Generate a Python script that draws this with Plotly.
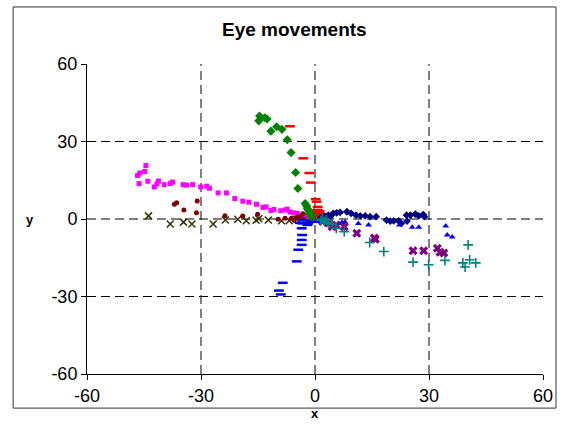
import plotly.graph_objects as go

# ---- data ----
magenta_x = [-44.5, -44.8, -46.1, -46.7, -46.3, -44.0, -42.3, -41.6, -41.2, -39.7, -38.1, -37.5, -34.7, -33.8,
             -32.2, -30.1, -28.5, -27.8, -25.5, -23.3, -21.1, -19.0, -17.4, -15.4, -13.7, -12.9, -11.6, -10.8,
             -9.0, -7.9, -7.3, -6.6, -5.7, -4.7, -3.5, -2.5]
magenta_y = [20.7, 18.4, 17.8, 16.8, 13.7, 14.6, 12.4, 13.6, 14.7, 13.3, 13.7, 14.3, 13.3, 13.1,
             13.3, 12.4, 12.7, 11.9, 10.1, 10.1, 7.9, 6.9, 6.5, 5.7, 4.5, 4.7, 3.3, 3.7,
             3.2, 3.5, 3.8, 2.7, 2.4, 2.2, 1.5, 1.0]

darkred_x = [-37.0, -36.4, -34.5, -31.0, -31.2, -23.7, -19.0, -15.1, -9.7, -7.9, -6.2, -4.7, -4.0, -3.0, -2.0, -3.2, -1.0, -5.5]
darkred_y = [5.7, 6.3, 3.5, 7.0, 2.4, 1.3, 1.2, 1.8, -0.1, 0.3, 0.3, 0.7, 1.0, 0.0, -1.0, 2.0, 0.0, -0.5]

olive_x = [-43.8, -38.1, -34.6, -32.4, -26.8, -23.6, -20.3, -18.1, -14.8, -15.5, -12.3, -8.8, -6.8, -4.8]
olive_y = [1.2, -1.9, -1.2, -1.9, -1.9, -0.4, -0.1, -0.7, 0.1, -0.5, -0.4, -0.7, -0.7, -0.1]

green_x = [-14.6, -14.8, -13.2, -12.6, -11.6, -10.1, -8.7, -7.3, -6.3, -5.1, -4.5, -2.6, -2.2, -2.0, -1.8,
           -1.5, -0.3, -1.1, 0.5, -0.8, 0.2, 1.0]
green_y = [39.9, 38.0, 39.2, 38.7, 34.0, 35.7, 34.7, 30.7, 25.7, 18.0, 11.8, 6.0, 5.0, 4.1, 3.5,
           2.2, 2.5, 0.9, 2.0, 1.5, 1.0, 0.3]

red_x = [-6.6, -3.1, -1.5, -1.1, 0.2, 0.4, 0.7, 0.7, 1.1, 1.3, 1.5, 2.0, 1.2]
red_y = [35.9, 23.5, 17.8, 14.1, 7.7, 6.7, 4.7, 3.5, 2.4, 1.2, 0.5, 1.8, 3.0]

blue_dash_x = [-3.3, -3.5, -3.4, -3.5, -3.5, -4.4, -4.8, -8.5, -9.5, -9.0, -2.0, -1.8, -0.5, 1.0, -3.0, -4.0]
blue_dash_y = [-1.7, -3.6, -6.2, -8.1, -10.0, -11.9, -16.4, -24.7, -27.7, -29.2, -2.3, -1.7, -1.1, -0.8, -0.5, -1.5]

navy_x = [4.8, 5.7, 6.6, 8.4, 9.5, 10.8, 11.9, 13.2, 14.5, 16.1, 18.8, 19.8, 20.7, 22.0, 22.7, 24.2,
          24.1, 25.1, 26.4, 27.3, 28.5, 28.8, 1.5, 2.5, 3.5, 3.0, 4.0]
navy_y = [2.2, 2.4, 2.6, 2.8, 2.2, 1.5, 1.2, 1.2, 0.9, 0.9, -0.4, -0.8, -0.7, -0.7, -1.7, -0.8,
          1.5, 1.5, 1.9, 1.2, 1.7, 0.9, 0.5, 1.0, 1.5, -0.5, 0.8]

tri_x = [6.2, 7.1, 7.9, 11.4, 14.1, 22.2, 25.6, 27.3, 34.4, 34.8, 36.1, 1.0, 2.5, 4.0]
tri_y = [-1.7, -1.4, -1.2, -1.7, -2.3, -2.3, -3.2, -3.2, -2.7, -6.2, -7.0, -1.0, -0.5, -1.0]

purple_x = [5.6, 7.7, 11.0, 15.6, 15.9, 25.8, 28.6, 32.2, 32.9, 33.9, 2.0, 3.5, 4.5]
purple_y = [-2.3, -3.0, -5.5, -7.4, -7.8, -12.3, -12.3, -11.3, -12.9, -13.2, -1.0, -1.5, -3.0]

teal_x = [5.6, 7.7, 14.4, 18.1, 25.8, 29.9, 34.2, 40.3, 38.9, 39.5, 40.7, 42.3, 1.5, 2.5, 3.5, 4.5, 3.0, 2.0]
teal_y = [-3.6, -4.9, -9.1, -12.6, -16.7, -17.7, -16.0, -10.0, -17.0, -18.6, -15.8, -17.0, -0.5, -1.0, -1.5, -2.0, -0.3, 0.0]

tick_vals = [-60, -30, 0, 30, 60]
grid_vals = [-30, 0, 30]

FONT = "Liberation Sans, Arial, sans-serif"

fig = go.Figure()

def add(x, y, symbol, color, size, lw=0):
    fig.add_trace(go.Scatter(
        x=x, y=y, mode="markers", showlegend=False, hoverinfo="skip",
        marker=dict(symbol=symbol, size=size, color=color,
                    line=dict(color=color, width=lw))))

add(magenta_x, magenta_y, "square", "#FF00FF", 5)
add(olive_x, olive_y, "x-thin", "#333300", 7, lw=1.5)
add(darkred_x, darkred_y, "circle", "#800000", 5)
add(green_x, green_y, "diamond", "#008000", 7)
add(red_x, red_y, "line-ew", "#FF0000", 7, lw=2.5)
add(blue_dash_x, blue_dash_y, "line-ew", "#0000FF", 7, lw=2.5)
add(navy_x, navy_y, "diamond", "#000080", 6)
add(tri_x, tri_y, "triangle-up", "#0000FF", 6)
add(purple_x, purple_y, "x", "#800080", 8)
add(teal_x, teal_y, "cross-thin", "#008080", 7, lw=1.6)

# dashed grid lines
for v in grid_vals:
    fig.add_shape(type="line", xref="x", yref="paper", x0=v, x1=v, y0=0, y1=1,
                  line=dict(color="black", width=1, dash="9px,5px"), layer="below")
    fig.add_shape(type="line", xref="paper", yref="y", x0=0, x1=1, y0=v, y1=v,
                  line=dict(color="black", width=1, dash="9px,5px"), layer="below")

# outer chart border
fig.add_shape(type="rect", xref="paper", yref="paper", x0=-0.162, x1=1.0285, y0=-0.110, y1=1.184,
              line=dict(color="#333333", width=1), fillcolor="rgba(0,0,0,0)")

fig.add_annotation(text="<b>Eye movements</b>", xref="paper", yref="paper", x=0.454, y=1.110,
                   xanchor="center", yanchor="middle",
                   showarrow=False, font=dict(family=FONT, size=19, color="black"))
fig.add_annotation(text="<b>x</b>", xref="paper", yref="paper", x=0.5, y=-0.127,
                   xanchor="center", yanchor="middle",
                   showarrow=False, font=dict(family=FONT, size=13, color="black"))
fig.add_annotation(text="<b>y</b>", xref="paper", yref="paper", x=-0.125, y=0.5,
                   xanchor="center", yanchor="middle",
                   showarrow=False, font=dict(family=FONT, size=13, color="black"))

axis_common = dict(range=[-60, 60], tickvals=tick_vals, ticktext=[str(v) for v in tick_vals],
                   showgrid=False, zeroline=False, showline=True, linecolor="black", linewidth=1,
                   ticks="outside", ticklen=5, tickcolor="black",
                   tickfont=dict(family=FONT, size=18, color="black"))

fig.update_layout(
    width=573, height=427,
    margin=dict(l=87, r=30, t=64, b=53),
    paper_bgcolor="white", plot_bgcolor="white",
    xaxis=axis_common, yaxis=axis_common,
    font=dict(family=FONT),
)

fig.write_html("out.html")
